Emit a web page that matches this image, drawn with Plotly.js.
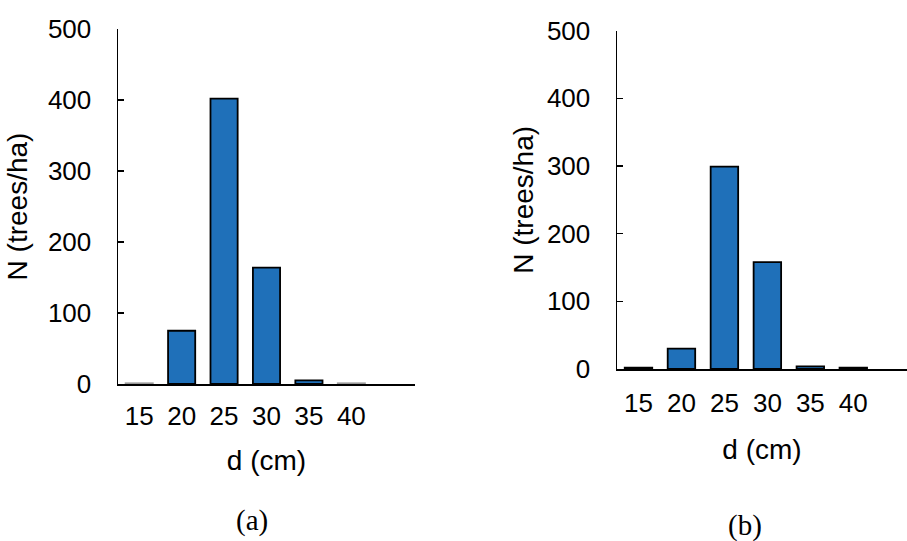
<!DOCTYPE html>
<html>
<head>
<meta charset="utf-8">
<script src="https://cdn.plot.ly/plotly-3.0.1.min.js"></script>
<style>html,body{margin:0;padding:0;background:#fff;}#chart{width:907px;height:541px;}</style>
</head>
<body>
<div id="chart"></div>
<script>
// Diameter classes (cm)
const diameterClasses = ["15", "20", "25", "30", "35", "40"];
// Panel (a): number of trees per hectare
const treesA = [1, 75, 402, 164, 5, 1];
// Panel (b): number of trees per hectare
const treesB = [2, 30, 299, 158, 4, 2];
// Y tick values
const yTicks = [0, 100, 200, 300, 400, 500];
const panelLabels = ["(a)", "(b)"];
const xTitle = "d (cm)";
const yTitle = "N (trees/ha)";

const W = 907, H = 541;
const px = v => v / W;
const py = v => 1 - v / H;

const barColor = "#1f70b9";
const tickFont = {family: "Liberation Sans, Arial, sans-serif", size: 26, color: "#000"};
const titleFont = {family: "Liberation Sans, Arial, sans-serif", size: 28, color: "#000"};

const traces = [
  {
    type: "bar", x: diameterClasses, y: treesA, xaxis: "x", yaxis: "y",
    marker: {color: barColor, line: {color: ["#9a9a9a", "#000", "#000", "#000", "#000", "#9a9a9a"], width: 1.8}},
    hoverinfo: "x+y", showlegend: false
  },
  {
    type: "bar", x: diameterClasses, y: treesB, xaxis: "x2", yaxis: "y2",
    marker: {color: barColor, line: {color: "#000", width: 1.8}},
    hoverinfo: "x+y", showlegend: false
  }
];

function xAxis(domain, range, anchor, labelOff, titleOff) {
  return {
    domain: domain, anchor: anchor, type: "category",
    range: range, showline: true, linecolor: "#000", linewidth: 2,
    ticks: "", showgrid: false, zeroline: false,
    tickfont: tickFont, ticklabelstandoff: labelOff,
    title: {text: xTitle, font: titleFont, standoff: titleOff},
    automargin: false, fixedrange: true
  };
}
function yAxis(domain, anchor, titleOff) {
  return {
    domain: domain, anchor: anchor, range: [0, 500],
    tickvals: yTicks, ticktext: yTicks.map(String),
    showline: true, linecolor: "#000", linewidth: 1.5,
    ticks: "inside", ticklen: 6, tickwidth: 1.5, tickcolor: "#000",
    showgrid: false, zeroline: false,
    tickfont: tickFont, ticklabelstandoff: 20,
    title: {text: yTitle, font: titleFont, standoff: titleOff},
    automargin: false, fixedrange: true
  };
}

const layout = {
  width: W, height: H,
  margin: {l: 0, r: 0, t: 0, b: 0},
  paper_bgcolor: "#fff", plot_bgcolor: "rgba(0,0,0,0)",
  bargap: 0.36,
  xaxis: xAxis([px(118), px(415)], [-0.5, 6.5], "y", 8, 20),
  yaxis: yAxis([py(384), py(29)], "x", 12),
  xaxis2: xAxis([px(617), 1], [-0.5, 6.25], "y2", 10, 22),
  yaxis2: yAxis([py(369), py(30.7)], "x2", 5),
  annotations: [
    {text: panelLabels[0], xref: "paper", yref: "paper", x: px(252), y: py(520), yanchor: "middle", xanchor: "center", showarrow: false,
     font: {family: "Liberation Serif, Times New Roman, serif", size: 29, color: "#000"}},
    {text: panelLabels[1], xref: "paper", yref: "paper", x: px(745), y: py(525), yanchor: "middle", xanchor: "center", showarrow: false,
     font: {family: "Liberation Serif, Times New Roman, serif", size: 29, color: "#000"}}
  ]
};

Plotly.newPlot("chart", traces, layout, {displayModeBar: false, staticPlot: true});
</script>
</body>
</html>
